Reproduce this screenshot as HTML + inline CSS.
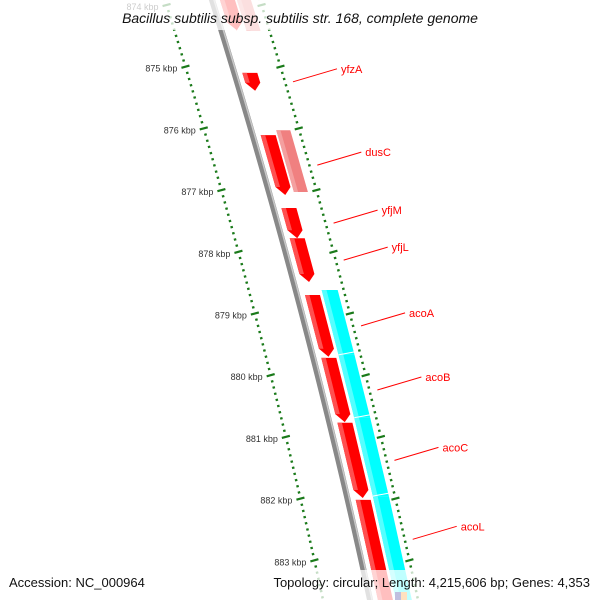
<!DOCTYPE html>
<html><head><meta charset="utf-8"><style>
body{margin:0;background:#fff}
svg{display:block;font-family:"Liberation Sans",sans-serif}
</style></head><body>
<svg id="map" width="600" height="600" viewBox="0 0 600 600">
<g id="ticks"></g>
<g id="backbone"></g>
<g id="feats"></g>
<g id="labels"></g>
<rect x="0" y="0" width="600" height="30" fill="#fff" opacity="0.75"/>
<text x="300" y="23" text-anchor="middle" font-size="14" font-style="italic" fill="#111">Bacillus subtilis subsp. subtilis str. 168, complete genome</text>
<rect x="0" y="570" width="600" height="30" fill="#fff" opacity="0.75"/>
<text x="9" y="587" font-size="13" fill="#111">Accession: NC_000964</text>
<text x="590" y="587" font-size="13" text-anchor="end" fill="#111">Topology: circular; Length: 4,215,606 bp; Genes: 4,353</text>
</svg>
<script>
const geneNames = ["top1","yfzA","dusC","yfjM","yfjL","acoA","acoB","acoC","acoL"];
const geneStart = [873.6,875.10,876.11,877.29,877.78,878.70,879.72,880.77,882.02];
const geneEnd   = [874.41,875.39,877.08,877.78,878.49,879.70,880.76,881.99,883.97];
const geneLabels = ["","yfzA","dusC","yfjM","yfjL","acoA","acoB","acoC","acoL"];
const pinkStart = [873.6,876.03];
const pinkEnd   = [874.41,877.03];
const cyanStart = [878.62,879.67,880.69,881.96];
const cyanEnd   = [879.67,880.69,881.96,883.97];
const tickKbp = [874,875,876,877,878,879,880,881,882,883];

const NS="http://www.w3.org/2000/svg";
function yOf(k){return 5+(k-874)*61.7;}
function bx(y){return 212+0.312*y-0.000081*y*y;}
function mk(tag,attrs,parent){const e=document.createElementNS(NS,tag);for(const a in attrs)e.setAttribute(a,attrs[a]);parent.appendChild(e);return e;}

// backbone
const bb=document.getElementById('backbone');
let pts1=[];for(let y=-10;y<=610;y+=10)pts1.push(bx(y)+','+y);
const bl=mk('polyline',{points:pts1.join(' '),fill:'none',stroke:'#888','stroke-width':6},bb);


let pts2=[];for(let y=-10;y<=610;y+=10)pts2.push((bx(y)+2)+','+y);
mk('polyline',{points:pts2.join(' '),fill:'none',stroke:'#c8c8c8','stroke-width':1.5},bb);

// ticks
const tg=document.getElementById('ticks');
for(let i=0;i<=110;i++){
  const k=873.9+i*0.1;const y=yOf(k);if(y<-5||y>605)continue;
  const major=Math.abs(k-Math.round(k))<0.01;
  [-47,48].forEach(off=>{
    const x=bx(y)+off;const len=major?4:1.2;
    const t=mk('line',{x1:x-len,y1:y+len*0.27,x2:x+len,y2:y-len*0.27,stroke:'#1a7a1a','stroke-width':2.2},tg);
    
    
  });
}
tickKbp.forEach(k=>{
  const y=yOf(k);
  const t=mk('text',{x:bx(y)-55,y:y+5,'text-anchor':'end','font-size':9,fill:'#333'},tg);
  t.textContent=k+' kbp';
  
  
});

// features
const fg=document.getElementById('feats');
function lane(s,e,o1,o2,fill,light,arrow,name){
  const y1=Math.max(yOf(s),-20),y2=Math.min(yOf(e),620);
  const head=arrow?8:0;const ye=y2-head;
  const p=[[bx(y1)+o1,y1],[bx(y1)+o2,y1],[bx(ye)+o2,ye],[bx(y2)+(o1+o2)/2,y2],[bx(ye)+o1,ye]];
  const g=mk('polygon',{points:p.map(q=>q.join(',')).join(' '),fill:fill},fg);
  
  
  const w=(o2-o1)*0.3;
  const p2=[[bx(y1)+o1,y1],[bx(y1)+o1+w,y1],[bx(ye)+o1+w,ye],[bx(ye)+o1,ye]];
  mk('polygon',{points:p2.map(q=>q.join(',')).join(' '),fill:light},fg);
}
geneNames.forEach((n,i)=>lane(geneStart[i],geneEnd[i],8,23,'#f00','#ff5050',true,'gene-'+n));
pinkStart.forEach((s,i)=>lane(s,pinkEnd[i],25,39,'#f08080','#f4a0a0',false,'pink-feature'));
cyanStart.forEach((s,i)=>{lane(s,cyanEnd[i],26,42,'#0ff','#5ff',false,'cyan-feature');
  const y=yOf(s);if(i>0)mk('line',{x1:bx(y)+26,y1:y,x2:bx(y)+42,y2:y-3,stroke:'#fff','stroke-width':1},fg);});

// labels
const lg=document.getElementById('labels');
geneNames.forEach((n,i)=>{
  if(!geneLabels[i])return;
  const y=(yOf(geneStart[i])+yOf(Math.min(geneEnd[i],883.3)))/2;
  const x0=bx(y)+56;
  const l=mk('line',{x1:x0,y1:y,x2:x0+44,y2:y-13,stroke:'#f00','stroke-width':1},lg);
  
  
  const t=mk('text',{x:x0+48,y:y-9,'font-size':11,fill:'#f00'},lg);
  t.textContent=geneLabels[i];
  
  
});
// bottom colored bits
mk('rect',{x:395,y:592,width:6,height:8,fill:'#000080'},fg);
mk('rect',{x:401,y:592,width:6,height:8,fill:'#f80'},fg);
</script>
</body></html>
